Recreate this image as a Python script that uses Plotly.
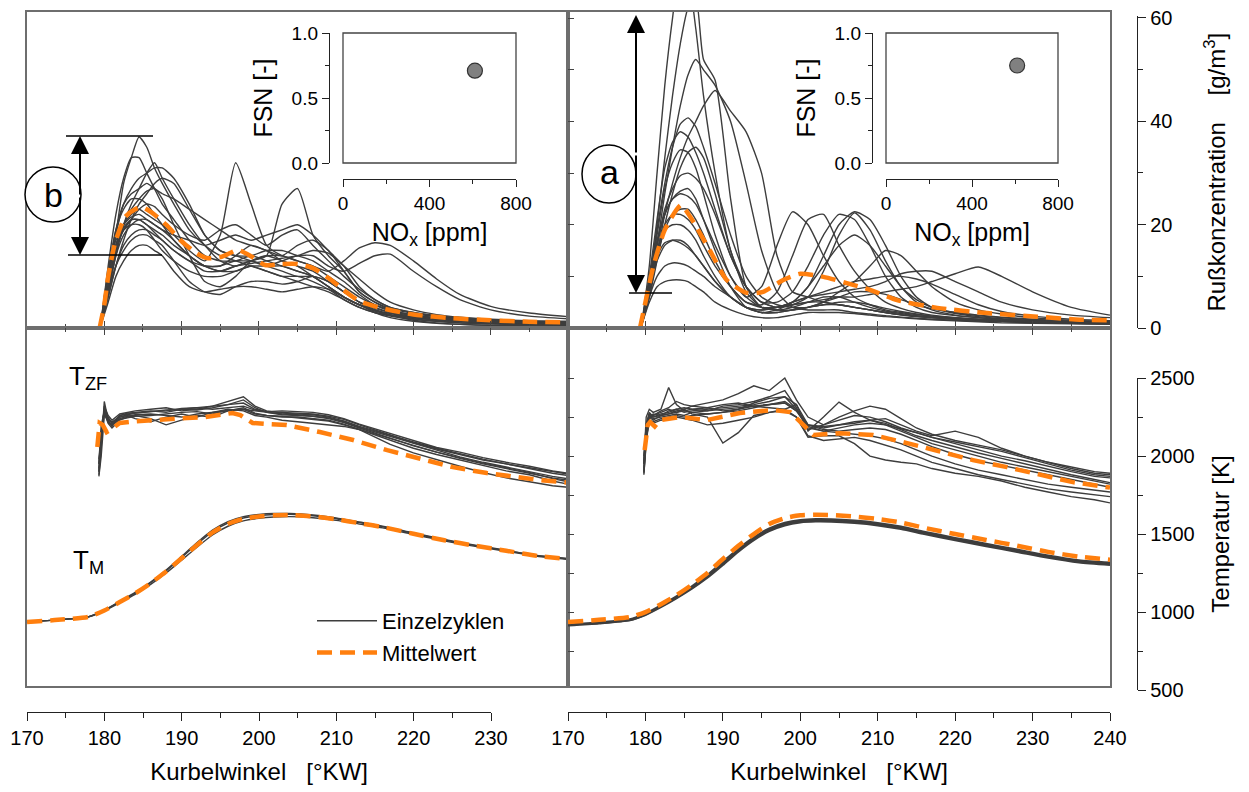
import plotly.graph_objects as go

# the page body adds an 8 px margin, so the figure is drawn 8 px smaller and positions are shifted
OFF = 8
W, H = 1249 - OFF, 792 - OFF


def px(x):
    return (x - OFF) / W


def py(y):
    return 1 - (y - OFF) / H


# ---------------- data ----------------
# soot concentration [g/m3], single cycles on a common crank angle grid
soot_x = [179.5, 180.5, 181.5, 182.5, 183.5, 184.5, 185.5, 186.5, 187.5, 189, 191, 193, 195, 197, 199,
          201, 203, 205, 207, 209, 211, 213, 215, 217, 220, 223, 226, 230, 235, 240]

soot_left = [
    [0.3, 8, 18, 28, 33, 37, 35, 31, 28, 24, 19, 16, 14, 13, 12, 11, 10, 10, 9, 7.5, 5.5, 4, 3, 2.5, 2, 1.6, 1.3, 1, 0.8, 0.7],
    [0.3, 9, 16, 20, 22, 23, 22, 21, 20, 18, 15, 13, 18, 32, 24, 16, 14, 13, 12, 10, 8, 6, 4.5, 3.5, 2.5, 2, 1.8, 1.5, 1.2, 1],
    [0.3, 7, 14, 18, 20, 21, 21, 20, 19, 17, 14, 12, 11, 12, 13, 14, 24, 27, 18, 14, 11, 7, 5, 3.8, 2.8, 2.2, 1.8, 1.5, 1.2, 1],
    [0.3, 6, 12, 16, 18, 19, 19, 18, 17, 15, 13, 12, 12, 13, 13, 14, 14, 13, 12, 11, 13, 15.5, 16.5, 16, 13, 9.5, 6.5, 4.2, 2.9, 2.2],
    [0.3, 8, 15, 19, 21, 21, 20, 19, 18, 16, 14, 12, 11, 11, 12, 12, 13, 14, 14, 12, 11, 12.5, 14, 14.3, 11, 8, 5.5, 3.5, 2.3, 1.8],
    [0.3, 9, 18, 24, 27, 29, 30, 31, 31, 29, 24, 18, 15, 14, 13, 12, 12, 11, 10, 8, 6, 4.5, 3.5, 2.8, 2, 1.5, 1.2, 0.9, 0.7, 0.6],
    [0.3, 10, 19, 24, 26, 27, 28, 27, 26, 25, 23, 21, 19, 17, 16, 15, 13, 12, 11, 9, 7, 5, 4, 3, 2.2, 1.8, 1.5, 1.2, 1, 0.9],
    [0.3, 11, 19, 23, 25, 25, 24, 22, 20, 17, 14, 12, 12, 14, 16, 15, 14, 16, 17, 15, 11, 7, 5, 3.5, 2.5, 2, 1.6, 1.3, 1.1, 1],
    [0.3, 7, 12, 15, 17, 18, 18, 17, 16, 13, 9, 7, 6.5, 8, 9, 9, 8.5, 9, 10, 9, 7, 5, 3.5, 2.5, 1.5, 1, 0.7, 0.5, 0.4, 0.3],
    [0.3, 8, 15, 20, 23, 25, 26.5, 27, 25, 20, 14, 9, 8, 10, 13, 14, 13, 12, 10, 8, 6, 4.5, 3.5, 2.5, 1.8, 1.3, 1, 0.8, 0.6, 0.5],
    [0.3, 9, 16, 20, 21.5, 22, 21, 20, 19, 18, 17, 16, 17, 18, 17, 18, 19, 20, 18, 15, 12, 8, 5.5, 4, 3, 2.3, 1.9, 1.5, 1.2, 1],
    [0.3, 10, 17, 19, 20, 20, 19, 17, 15, 13, 11, 10, 10, 11, 12, 11, 10, 9, 8, 7, 5.5, 4, 3, 2.3, 1.7, 1.3, 1, 0.8, 0.6, 0.5],
    [0.3, 12, 22, 29, 33, 33, 30, 27, 24, 21, 17, 14, 13, 13, 14, 13, 12, 11, 10, 8, 6, 4.5, 3.3, 2.6, 2, 1.6, 1.3, 1.1, 0.9, 0.8],
    [0.3, 7, 14, 20, 24, 27, 30, 32, 29, 25, 20, 16, 13, 12, 13, 12, 11, 10, 10, 9, 7, 5, 3.8, 3, 2.2, 1.8, 1.4, 1.1, 0.9, 0.8],
    [0.3, 6, 12, 17, 21, 24, 26, 28, 29, 28, 23, 18, 15, 14, 14, 15, 15, 14, 13, 11, 9, 6.5, 4.5, 3.3, 2.4, 1.9, 1.5, 1.2, 1, 0.9],
    [0.3, 5, 10, 13, 15, 16, 16, 15, 14, 11, 8, 7, 7.5, 8, 8, 7.5, 7, 7.5, 8, 7.5, 6, 4.5, 3, 2, 1.3, 0.9, 0.7, 0.5, 0.4, 0.3],
    [0.3, 8, 15, 19, 21, 23, 24, 23.5, 22, 20, 18, 17, 19, 20, 18, 16, 18, 19, 16, 13, 10, 7.5, 5.5, 4, 3, 2.4, 2, 1.6, 1.3, 1.2],
    [0.3, 9, 16, 19.5, 21, 21, 20, 18.5, 17, 15, 13, 11, 11, 12, 12.5, 13, 13.5, 14, 15, 14.5, 12, 9.5, 7, 5, 3.5, 2.6, 2.1, 1.7, 1.4, 1.3],
]

soot_right = [
    [0.5, 12, 30, 47, 60, 70, 68, 58, 45, 30, 15, 8, 5, 4, 4.5, 5, 5, 4.5, 4, 3.5, 3, 2.5, 2.2, 2, 1.8, 1.5, 1.3, 1.1, 0.9, 0.8],
    [0.5, 8, 20, 33, 45, 55, 62, 64, 52, 48, 25, 8, 4, 3.5, 4, 5, 6, 6, 5, 4, 3.3, 2.8, 2.4, 2.1, 1.8, 1.6, 1.4, 1.2, 1, 0.9],
    [0.5, 6, 14, 22, 28, 33, 37, 40, 43, 46, 42, 38, 30, 14, 7, 6, 5, 4.5, 4, 3.5, 3, 2.6, 2.3, 2, 1.8, 1.6, 1.4, 1.2, 1, 0.9],
    [0.5, 7, 16, 26, 35, 43, 49, 52, 50, 47, 40, 28, 15, 7, 4, 3.5, 3.5, 3.5, 3, 2.7, 2.4, 2.1, 1.9, 1.7, 1.5, 1.3, 1.2, 1, 0.9, 0.8],
    [0.5, 9, 19, 28, 35, 39.5, 40.7, 39, 35, 28, 18, 10, 6, 4.5, 4, 4, 4.5, 5, 5, 4.5, 3.8, 3.2, 2.7, 2.3, 1.9, 1.6, 1.4, 1.2, 1, 0.9],
    [0.5, 10, 21, 31, 36, 38, 37, 34, 30, 23, 14, 8, 5, 4, 4.5, 6, 11, 18, 22.3, 19, 13, 8, 5.5, 4, 3, 2.4, 2, 1.6, 1.3, 1.1],
    [0.5, 9, 18, 27, 32, 34.5, 34, 31, 26, 18, 10, 6, 8, 16, 22.5, 20, 14, 9, 6, 4.5, 3.5, 3, 2.6, 2.3, 2, 1.7, 1.5, 1.2, 1, 0.9],
    [0.5, 8, 16, 23, 27, 29.5, 30, 29, 27, 22, 14, 8, 5, 5, 7, 12, 18, 22, 21, 16, 10, 6, 4, 3, 2.4, 2, 1.7, 1.4, 1.1, 1],
    [0.5, 9, 17, 22, 25, 26, 25.5, 24, 21, 16, 10, 6, 4, 4, 5, 8, 14, 20, 22.5, 21, 16, 10, 6, 4, 2.8, 2.2, 1.8, 1.5, 1.2, 1],
    [0.5, 8, 15, 19, 20, 20, 19, 17, 14, 10, 6, 4, 3.5, 4, 5, 6, 6.5, 7, 7.5, 8, 9, 10.5, 11, 11, 9, 7, 5, 3.5, 2.5, 2],
    [0.5, 7, 13, 16, 17, 17, 16, 14, 12, 9, 6, 4, 3.5, 4, 4.5, 5, 5.5, 6, 6, 6.5, 7, 7.5, 8, 9, 10.5, 11.8, 10, 7, 4, 2.5],
    [0.5, 6, 10, 12, 12.6, 12.5, 12, 11, 10, 8, 6, 4, 3, 3, 3.5, 4, 4.5, 4.5, 4, 3.5, 3, 2.6, 2.3, 2, 1.7, 1.5, 1.3, 1.1, 0.9, 0.8],
    [0.5, 5, 8, 9, 9.3, 9.3, 9, 8, 7, 5, 3.5, 2.5, 2, 2, 2.5, 3, 3, 3, 2.8, 2.5, 2.2, 2, 1.8, 1.6, 1.4, 1.2, 1, 0.9, 0.8, 0.7],
    [0.5, 7, 14, 19, 22, 23, 23, 21, 18, 13, 8, 5, 4.5, 7, 14, 21, 22, 16, 11, 7.5, 5, 3.8, 3, 2.5, 2, 1.7, 1.5, 1.2, 1, 0.9],
    [0.5, 6, 13, 20, 26, 31, 34, 35, 33, 26, 15, 7, 4, 3.5, 3.5, 4, 5, 7, 9, 12, 15, 14, 11, 8, 5, 3.5, 2.7, 2, 1.5, 1.2],
    [0.5, 9, 14, 16.5, 17, 16.5, 15.5, 14, 12, 9, 6, 4, 3, 3, 3.5, 4, 5, 6, 7, 7, 6.5, 5.5, 4.5, 3.7, 3, 2.5, 2.1, 1.7, 1.3, 1.1],
    [0.5, 8, 16, 22, 25, 26.5, 27, 25, 21, 15, 8, 4, 3, 3.5, 5, 8, 12, 16, 18, 16, 12, 8, 5, 3.5, 2.5, 2, 1.6, 1.3, 1.1, 1],
    [0.5, 8, 15, 20, 22, 22, 21, 19, 16, 12, 8, 5, 4, 4, 5, 6, 7, 8, 9, 9.5, 10, 10, 9.5, 8.5, 6.5, 4.5, 3.2, 2.3, 1.7, 1.4],
]

# mean soot
soot_mean_left_x = [179.4, 180.0, 180.5, 181.4, 182.7, 184.0, 184.9, 186.2, 188.0, 190.0, 192.0, 193.4, 195.2, 197.3,
                    199.1, 200.8, 203.0, 205.0, 207.0, 209.0, 211.0, 213.0, 216.0, 220.0, 225.0, 230.0, 235.0, 240.0]
soot_mean_left = [0.0, 4.5, 9.9, 16.5, 21.5, 23.0, 23.4, 22.3, 20.0, 16.8, 14.4, 13.5, 13.8, 15.1,
                  13.8, 12.2, 12.4, 12.4, 11.6, 9.7, 7.3, 5.2, 3.8, 2.6, 1.9, 1.5, 1.2, 1.1]
soot_mean_right_x = [179.3, 180.0, 181.0, 182.5, 184.6, 185.8, 188.3, 190.5, 193.1, 195.2, 197.8, 200.0, 203.0,
                     206.0, 209.0, 212.5, 217.7, 224.1, 230.6, 236.1, 240.0]
soot_mean_right = [0.0, 5.0, 11.8, 19.0, 23.8, 21.5, 15.1, 9.3, 6.8, 7.0, 9.3, 10.5, 9.9,
                   8.7, 7.4, 5.4, 3.9, 2.9, 2.2, 1.6, 1.5]

# flame zone temperature T_ZF [K]
tzf_left_x = [179.3, 179.6, 180.0, 180.5, 181, 182, 183, 184, 186, 188, 190, 192, 194, 196, 198, 199.5, 201,
              203, 205, 207, 209, 211, 213, 215, 217, 220, 223, 226, 229, 232, 235, 238, 240]
tzf_left = [
    [1880, 2050, 2350, 2230, 2190, 2260, 2275, 2280, 2290, 2280, 2300, 2295, 2310, 2330, 2340, 2300, 2285, 2280, 2275, 2270, 2255, 2235, 2200, 2165, 2135, 2085, 2045, 2010, 1975, 1950, 1925, 1900, 1885],
    [1950, 2150, 2300, 2220, 2200, 2240, 2255, 2265, 2270, 2260, 2250, 2270, 2280, 2290, 2300, 2290, 2280, 2270, 2265, 2255, 2240, 2215, 2180, 2150, 2115, 2065, 2025, 1985, 1950, 1920, 1890, 1860, 1845],
    [1900, 2200, 2280, 2210, 2180, 2230, 2250, 2260, 2240, 2200, 2230, 2260, 2250, 2290, 2310, 2275, 2260, 2250, 2250, 2240, 2230, 2205, 2170, 2135, 2100, 2050, 2010, 1975, 1940, 1905, 1880, 1840, 1820],
    [1920, 2100, 2320, 2260, 2230, 2270, 2280, 2290, 2300, 2310, 2290, 2300, 2320, 2350, 2380, 2320, 2290, 2275, 2270, 2265, 2250, 2225, 2190, 2160, 2130, 2090, 2050, 2015, 1980, 1950, 1920, 1890, 1875],
    [1870, 2000, 2260, 2240, 2210, 2250, 2265, 2275, 2285, 2290, 2305, 2310, 2300, 2310, 2320, 2295, 2285, 2290, 2285, 2280, 2265, 2240, 2205, 2175, 2145, 2095, 2055, 2025, 1990, 1960, 1935, 1905, 1890],
    [1980, 2150, 2290, 2230, 2220, 2250, 2260, 2240, 2220, 2250, 2270, 2250, 2280, 2300, 2290, 2260, 2250, 2230, 2220, 2210, 2200, 2190, 2170, 2120, 2075, 2020, 1975, 1935, 1895, 1860, 1835, 1810, 1800],
    [1900, 2100, 2310, 2250, 2210, 2260, 2270, 2275, 2285, 2295, 2300, 2310, 2320, 2330, 2360, 2310, 2280, 2265, 2260, 2255, 2245, 2220, 2185, 2155, 2125, 2080, 2035, 1995, 1960, 1930, 1900, 1870, 1855],
    [1950, 2120, 2270, 2220, 2200, 2235, 2245, 2255, 2260, 2270, 2280, 2285, 2270, 2295, 2300, 2270, 2260, 2255, 2245, 2235, 2225, 2200, 2170, 2140, 2110, 2065, 2025, 1990, 1955, 1925, 1895, 1855, 1835],
]
tzf_right_x = [179.8, 180.1, 180.5, 181, 182, 183, 184, 185, 186, 188, 190, 192, 194, 196, 198, 199.5, 201,
               203, 205, 207, 209, 211, 213, 215, 217, 220, 223, 226, 229, 232, 235, 238, 240]
tzf_right = [
    [1900, 2150, 2250, 2230, 2260, 2290, 2300, 2280, 2290, 2300, 2310, 2320, 2330, 2350, 2380, 2300, 2200, 2180, 2200, 2220, 2230, 2210, 2170, 2130, 2100, 2060, 2020, 1985, 1950, 1915, 1880, 1850, 1830],
    [1950, 2250, 2300, 2280, 2300, 2440, 2330, 2290, 2300, 2310, 2290, 2300, 2320, 2330, 2340, 2290, 2180, 2160, 2180, 2200, 2210, 2200, 2175, 2150, 2120, 2080, 2040, 2000, 1970, 1935, 1900, 1870, 1860],
    [2000, 2200, 2280, 2250, 2260, 2270, 2290, 2300, 2270, 2250, 2083, 2150, 2260, 2280, 2300, 2330, 2200, 2170, 2160, 2170, 2180, 2170, 2140, 2100, 2060, 2010, 1970, 1940, 1910, 1880, 1850, 1820, 1800],
    [1880, 2100, 2240, 2260, 2290, 2310, 2350, 2330, 2320, 2340, 2360, 2400, 2450, 2420, 2500, 2360, 2250, 2200, 2230, 2260, 2250, 2220, 2180, 2150, 2120, 2090, 2060, 2030, 1990, 1950, 1910, 1880, 1870],
    [1950, 2200, 2260, 2240, 2250, 2260, 2270, 2260, 2280, 2290, 2300, 2310, 2320, 2310, 2300, 2250, 2120, 2130, 2130, 2080, 2000, 1975, 1960, 1950, 1920, 1890, 1870, 1840, 1800, 1770, 1740, 1720, 1700],
    [1920, 2150, 2230, 2220, 2240, 2250, 2260, 2250, 2260, 2270, 2280, 2300, 2340, 2370, 2380, 2330, 2160, 2250, 2346, 2280, 2230, 2200, 2160, 2120, 2080, 2040, 2000, 1960, 1930, 1900, 1870, 1840, 1820],
    [1970, 2180, 2260, 2250, 2270, 2280, 2300, 2310, 2300, 2290, 2320, 2330, 2350, 2380, 2420, 2310, 2170, 2200, 2250, 2290, 2320, 2300, 2240, 2180, 2140, 2100, 2070, 2040, 2000, 1960, 1930, 1900, 1890],
    [1900, 2120, 2220, 2210, 2230, 2240, 2250, 2240, 2230, 2200, 2210, 2230, 2250, 2280, 2290, 2250, 2130, 2100, 2110, 2120, 2100, 2070, 2040, 2000, 1960, 1920, 1880, 1850, 1820, 1790, 1770, 1750, 1740],
    [1950, 2200, 2270, 2260, 2280, 2300, 2280, 2300, 2320, 2310, 2330, 2340, 2320, 2330, 2340, 2290, 2200, 2190, 2200, 2210, 2230, 2240, 2200, 2160, 2130, 2160, 2120, 2050, 2000, 1960, 1920, 1890, 1880],
    [1890, 2080, 2250, 2270, 2260, 2270, 2280, 2290, 2280, 2270, 2280, 2290, 2310, 2330, 2350, 2300, 2190, 2160, 2150, 2140, 2130, 2110, 2080, 2040, 2000, 1950, 1910, 1880, 1850, 1820, 1800, 1780, 1770],
]
tzf_mean_left_x = [179.1, 179.4, 179.8, 180.3, 181.0, 182.0, 184.0, 186.3, 188.5, 190.7, 193.0, 195.0, 196.6,
                   197.6, 199.2, 201.0, 203.6, 207.9, 212.2, 216.6, 220.8, 225.1, 229.5, 236.4, 240.0]
tzf_mean_left = [2058, 2212, 2200, 2154, 2175, 2212, 2222, 2231, 2238, 2244, 2250, 2263, 2276,
                 2263, 2212, 2205, 2199, 2154, 2103, 2038, 1987, 1929, 1891, 1846, 1830]
tzf_mean_right_x = [179.9, 180.3, 180.6, 181.2, 181.9, 184.5, 188.0, 192.2, 196.5, 198.7, 200.2, 201.7, 205.1,
                    209.4, 213.8, 218.1, 222.3, 226.7, 231.0, 235.2, 240.0]
tzf_mean_right = [2038, 2200, 2218, 2190, 2231, 2250, 2231, 2276, 2295, 2282, 2210, 2135, 2147,
                  2135, 2083, 2026, 1974, 1929, 1878, 1833, 1798]

# mass-averaged temperature T_M [K]
tm_x = [170, 174, 178, 180, 182, 184, 186, 188, 190, 192, 194, 196, 198, 200, 202, 204, 207, 210, 213, 216,
        220, 224, 228, 232, 236, 240]
tm_left = [
    [936, 950, 970, 1012, 1068, 1126, 1193, 1270, 1357, 1445, 1525, 1580, 1612, 1626, 1632, 1632, 1622, 1603, 1577, 1551, 1507, 1465, 1429, 1396, 1363, 1343],
    [936, 950, 970, 1008, 1060, 1114, 1177, 1250, 1333, 1416, 1494, 1550, 1585, 1601, 1609, 1612, 1605, 1588, 1564, 1540, 1498, 1456, 1421, 1390, 1357, 1337],
    [936, 950, 971, 1011, 1066, 1122, 1188, 1264, 1350, 1436, 1516, 1571, 1603, 1618, 1625, 1626, 1617, 1598, 1573, 1547, 1504, 1462, 1426, 1394, 1361, 1341],
]
tm_mean_left = [936, 950, 970, 1010, 1064, 1120, 1185, 1260, 1345, 1430, 1510, 1565, 1598, 1613, 1620, 1622, 1613, 1595,
                1570, 1545, 1502, 1460, 1425, 1393, 1360, 1340]
tm_right = [
    [917, 930, 950, 985, 1037, 1093, 1157, 1228, 1312, 1397, 1470, 1528, 1563, 1582, 1588, 1587, 1578, 1563, 1540, 1508, 1468, 1430, 1393, 1355, 1325, 1310],
    [920, 933, 953, 990, 1042, 1100, 1165, 1238, 1322, 1405, 1478, 1536, 1572, 1590, 1596, 1595, 1586, 1571, 1548, 1515, 1475, 1437, 1400, 1362, 1332, 1317],
    [915, 928, 948, 982, 1032, 1088, 1150, 1220, 1302, 1388, 1462, 1520, 1556, 1575, 1581, 1580, 1571, 1556, 1533, 1501, 1461, 1423, 1386, 1348, 1318, 1302],
]
tm_mean_right = [936, 950, 968, 1000, 1050, 1108, 1175, 1250, 1340, 1425, 1500, 1565, 1602, 1620, 1624, 1622, 1612, 1597,
                 1574, 1540, 1500, 1462, 1425, 1386, 1355, 1335]

# inset: filter smoke number vs NOx
nox_left, fsn_left = [610], [0.71]
nox_right, fsn_right = [610], [0.75]

# ---------------- figure ----------------
FONT = "Liberation Sans, Arial, sans-serif"
CYC_COLOR = "#3d3d3d"
MEAN_COLOR = "#ff7f0e"
FRAME = "#6e6e6e"
NB = "\u00a0"

fig = go.Figure()


def add_cycles(xs, rows, xa, ya, shape="linear", width=1.4, legend=False):
    for i, row in enumerate(rows):
        assert len(row) == len(xs)
        fig.add_trace(go.Scatter(
            x=xs, y=row, xaxis=xa, yaxis=ya, mode="lines", name="Einzelzyklen",
            line=dict(color=CYC_COLOR, width=width, shape=shape, smoothing=0.6),
            showlegend=legend and i == 0, legendrank=1, hoverinfo="skip"))


def add_mean(xs, ys, xa, ya, shape="linear", legend=False):
    assert len(xs) == len(ys)
    fig.add_trace(go.Scatter(
        x=xs, y=ys, xaxis=xa, yaxis=ya, mode="lines", name="Mittelwert",
        line=dict(color=MEAN_COLOR, width=4.5, dash="15px,8px", shape=shape, smoothing=0.6),
        showlegend=legend, legendrank=2, hoverinfo="skip"))


add_cycles(soot_x, soot_left, "x", "y", shape="spline")
add_mean(soot_mean_left_x, soot_mean_left, "x", "y", shape="spline")
add_cycles(soot_x, soot_right, "x2", "y2", shape="spline")
add_mean(soot_mean_right_x, soot_mean_right, "x2", "y2", shape="spline")

add_cycles(tzf_left_x, tzf_left, "x3", "y3", legend=True)
add_cycles(tm_x, tm_left, "x3", "y3", shape="spline")
add_mean(tzf_mean_left_x, tzf_mean_left, "x3", "y3", legend=True)
add_mean(tm_x, tm_mean_left, "x3", "y3", shape="spline")

add_cycles(tzf_right_x, tzf_right, "x4", "y4")
add_cycles(tm_x, tm_right, "x4", "y4", shape="spline", width=2.2)
add_mean(tzf_mean_right_x, tzf_mean_right, "x4", "y4")
add_mean(tm_x, tm_mean_right, "x4", "y4", shape="spline")

# invisible anchors for the detached scale axes
fig.add_trace(go.Scatter(x=[170], y=[0], xaxis="x5", yaxis="y5", mode="lines", showlegend=False, hoverinfo="skip"))
fig.add_trace(go.Scatter(x=[170], y=[500], xaxis="x6", yaxis="y6", mode="lines", showlegend=False, hoverinfo="skip"))

marker = dict(size=15, color="#808080", line=dict(color="#333333", width=1.2))
fig.add_trace(go.Scatter(x=nox_left, y=fsn_left, xaxis="x7", yaxis="y7", mode="markers",
                         marker=marker, showlegend=False, hoverinfo="skip"))
fig.add_trace(go.Scatter(x=nox_right, y=fsn_right, xaxis="x8", yaxis="y8", mode="markers",
                         marker=marker, showlegend=False, hoverinfo="skip"))

frame = dict(showline=True, linecolor=FRAME, linewidth=1.6, mirror=True, showgrid=False,
             zeroline=False, showticklabels=False)
xpanel = dict(frame, range=[170, 240], ticks="inside", tick0=170, dtick=10, ticklen=7, tickcolor="#444",
              minor=dict(dtick=5, ticklen=4, ticks="inside", tickcolor="#444"))
left_dom = [px(27), px(568)]
right_dom = [px(568), px(1110)]
top_dom = [py(328), py(12)]
bot_dom = [py(686), py(328)]
soot_range = [0, 61.2]
temp_range = [526, 2821]

detached = dict(showline=True, linecolor="#222", linewidth=1.4, showgrid=False, zeroline=False,
                ticks="outside", tickcolor="#222", tickfont=dict(size=20, color="black"),
                ticklabeloverflow="allow")

fig.update_layout(
    width=W, height=H, autosize=False,
    margin=dict(l=0, r=0, t=0, b=0, pad=0, autoexpand=False),
    paper_bgcolor="white", plot_bgcolor="rgba(0,0,0,0)",
    font=dict(family=FONT, color="black"),
    xaxis=dict(xpanel, domain=left_dom, anchor="y"),
    yaxis=dict(frame, domain=top_dom, range=soot_range, anchor="x"),
    xaxis2=dict(xpanel, domain=right_dom, anchor="y2"),
    yaxis2=dict(frame, domain=top_dom, range=soot_range, anchor="x2", ticks="inside",
                tick0=0, dtick=10, ticklen=6, tickcolor="#444"),
    xaxis3=dict(xpanel, domain=left_dom, anchor="y3", side="top"),
    yaxis3=dict(frame, domain=bot_dom, range=temp_range, anchor="x3"),
    xaxis4=dict(xpanel, domain=right_dom, anchor="y4", side="top"),
    yaxis4=dict(frame, domain=bot_dom, range=temp_range, anchor="x4", ticks="inside",
                tickvals=[750, 1000, 1250, 1500, 1750, 2000, 2250, 2500], ticklen=6, tickcolor="#444"),
    xaxis5=dict(detached, domain=[px(27), px(491)], range=[170, 230], anchor="free", position=py(712),
                dtick=10, tick0=170, ticklen=8, minor=dict(dtick=5, ticklen=5, ticks="outside", tickcolor="#222"),
                title=dict(text=f"Kurbelwinkel{NB}{NB}{NB}[°KW]", font=dict(size=24), standoff=14)),
    xaxis6=dict(detached, domain=[px(568), px(1110)], range=[170, 240], anchor="free", position=py(712),
                dtick=10, tick0=170, ticklen=8, minor=dict(dtick=5, ticklen=5, ticks="outside", tickcolor="#222"),
                title=dict(text=f"Kurbelwinkel{NB}{NB}{NB}[°KW]", font=dict(size=24), standoff=14)),
    yaxis5=dict(detached, domain=[py(328), py(16.4)], range=[0, 60.3], anchor="free", position=px(1137),
                side="right", tickvals=[0, 20, 40, 60], ticklen=8,
                minor=dict(tickvals=[10, 30, 50], ticklen=5, ticks="outside", tickcolor="#222"),
                title=dict(text=f"Rußkonzentration{NB}{NB}{NB}{NB}[g/m<sup>3</sup>]", font=dict(size=24),
                           standoff=36)),
    yaxis6=dict(detached, domain=[py(690), py(378)], range=[500, 2500], anchor="free", position=px(1137),
                side="right", dtick=500, ticklen=8, minor=dict(dtick=250, ticklen=5, ticks="outside", tickcolor="#222"),
                title=dict(text="Temperatur [K]", font=dict(size=24), standoff=18)),
    showlegend=True,
    legend=dict(x=px(312), y=py(600), xanchor="left", yanchor="top", bgcolor="rgba(0,0,0,0)",
                font=dict(size=22), itemwidth=60, tracegroupgap=0),
)

inset_x = dict(detached, range=[0, 800], anchor="free", position=py(179), dtick=400, ticklen=7,
               tickfont=dict(size=19), minor=dict(dtick=200, ticklen=4, ticks="outside", tickcolor="#222"),
               title=dict(text="NO<sub>x</sub> [ppm]", font=dict(size=25), standoff=10))
inset_y = dict(detached, range=[0, 1], domain=[py(163), py(33)], anchor="free", dtick=0.5, tickformat=".1f",
               ticklen=7, tickfont=dict(size=19), minor=dict(dtick=0.25, ticklen=4, ticks="outside", tickcolor="#222"),
               title=dict(text="FSN [-]", font=dict(size=25), standoff=10))
fig.update_layout(
    xaxis7=dict(inset_x, domain=[px(343), px(516)]),
    yaxis7=dict(inset_y, position=px(329)),
    xaxis8=dict(inset_x, domain=[px(886), px(1058)]),
    yaxis8=dict(inset_y, position=px(872)),
)

shapes = []
for xa, ya in (("x7", "y7"), ("x8", "y8")):
    shapes.append(dict(type="rect", xref=f"{xa} domain", yref=f"{ya} domain", x0=0, x1=1, y0=0, y1=1,
                       line=dict(color="#444", width=1.3)))
# markers "a" and "b"
shapes += [
    dict(type="circle", xref="paper", yref="paper", x0=px(25), x1=px(81), y0=py(222), y1=py(167),
         line=dict(color="black", width=1.5), fillcolor="white"),
    dict(type="circle", xref="paper", yref="paper", x0=px(582), x1=px(636), y0=py(203), y1=py(145),
         line=dict(color="black", width=1.5), fillcolor="white"),
    dict(type="line", xref="paper", yref="paper", x0=px(66), x1=px(153), y0=py(136), y1=py(136),
         line=dict(color="black", width=1.6)),
    dict(type="line", xref="paper", yref="paper", x0=px(68), x1=px(162), y0=py(255), y1=py(255),
         line=dict(color="black", width=1.6)),
    dict(type="line", xref="paper", yref="paper", x0=px(629), x1=px(672), y0=py(293), y1=py(293),
         line=dict(color="black", width=1.6)),
]
fig.update_layout(shapes=shapes)


def arrow(x, y_tip, y_tail):
    # tail offset is given in pixels relative to the tip
    return dict(x=px(x), y=py(y_tip), ax=0, ay=y_tail - y_tip, xref="paper", yref="paper",
                text="", showarrow=True, arrowhead=2, arrowsize=1.8,
                arrowwidth=2, arrowcolor="black")


def label(x, y, text, size, xanchor="center"):
    return dict(x=px(x), y=py(y), xref="paper", yref="paper", xanchor=xanchor, yanchor="middle",
                text=text, showarrow=False, font=dict(size=size))


annotations = [
    arrow(80, 136, 196), arrow(80, 255, 196),
    arrow(636, 15, 154), arrow(636, 293, 154),
    label(53, 195, "b", 34),
    label(609, 172, "a", 34),
    label(67, 377, "T<sub>ZF</sub>", 26, xanchor="left"),
    label(71, 561, "T<sub>M</sub>", 26, xanchor="left"),
]
fig.update_layout(annotations=annotations)

fig.write_html("out.html")
